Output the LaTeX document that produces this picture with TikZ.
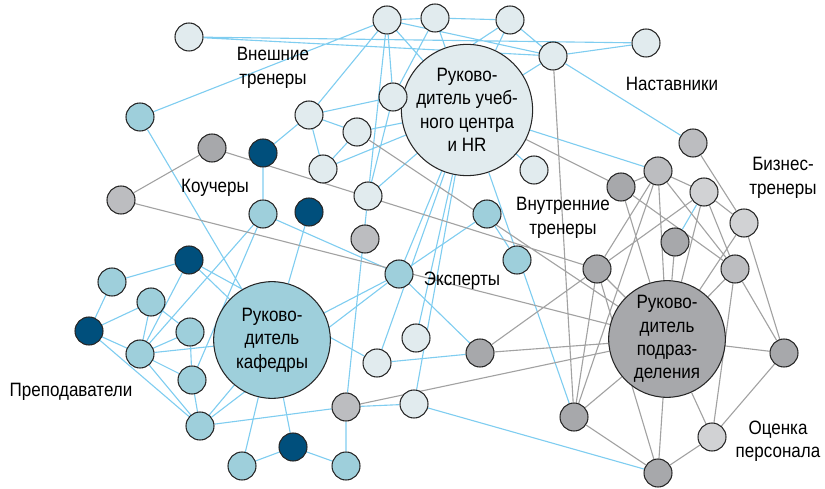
\documentclass[tikz,border=0pt]{standalone}
\usepackage{fontspec}
\setmainfont{Liberation Sans}[FakeStretch=0.88]
\usetikzlibrary{backgrounds}
\definecolor{paleblue}{HTML}{E1EBEE}
\definecolor{tealfill}{HTML}{9ECFDB}
\definecolor{navyfill}{HTML}{004F7C}
\definecolor{greyfill}{HTML}{A7A8AB}
\definecolor{midgreyfill}{HTML}{BCBDC0}
\definecolor{palegreyfill}{HTML}{D1D2D4}
\definecolor{edgeblue}{HTML}{7FCDF0}
\definecolor{edgegrey}{HTML}{A2A2A2}
\newcommand{\lblfont}{\fontsize{16.5}{20}\selectfont}

\begin{document}
\begin{tikzpicture}[x=0.03cm, y=-0.03cm,
		dot/.style={
			circle, draw=black!85, line width=0.9pt,
			minimum size=0.84cm, inner sep=0pt
		},
		lightdot/.style={dot, fill=paleblue},
		tealdot/.style={dot, fill=tealfill},
		navydot/.style={dot, fill=navyfill},
		greydot/.style={dot, fill=greyfill},
		midgreydot/.style={dot, fill=midgreyfill},
		palegreydot/.style={dot, fill=palegreyfill},
		bigdot/.style={
			dot, minimum size=3.5cm,
			align=center, font=\lblfont
		},
		lbl/.style={align=center, font=\lblfont, inner sep=0pt},
		blueline/.style={draw=edgeblue, line width=0.95pt},
		greyline/.style={draw=edgegrey, line width=0.95pt},
	]
	\useasboundingbox (0,0) rectangle (825,489);
	
	%leaders
	\node[bigdot, fill=paleblue] (hr) at (467,110) {Руково-\\дитель учеб-\\ного центра\\и HR};
	\node[bigdot, fill=tealfill] (kaf) at (272,340) {Руково-\\дитель\\кафедры};
	\node[bigdot, fill=greyfill] (pod) at (667,339) {Руково-\\дитель\\подраз-\\деления};
	
	%external trainers, mentors
	\node[lightdot] (e1) at (189,37) {};
	\node[lightdot] (e2) at (387,20) {};
	\node[lightdot] (e3) at (435,18) {};
	\node[lightdot] (e4) at (510,20) {};
	\node[lightdot] (e5) at (553,56) {};
	\node[lightdot] (e6) at (646,43) {};
	\node[lightdot] (e7) at (393,97) {};
	\node[lightdot] (e8) at (309,115) {};
	\node[lightdot] (e9) at (357,132) {};
	\node[lightdot] (e10) at (323,169) {};
	\node[lightdot] (e11) at (368,196) {};
	\node[lightdot] (e12) at (534,170) {};
	\node[lightdot] (e13) at (416,338) {};
	\node[lightdot] (e14) at (377,363) {};
	\node[lightdot] (e15) at (414,404) {};
	
	%teachers, experts
	\node[tealdot] (t1) at (140,117) {};
	\node[tealdot] (t2) at (263,214) {};
	\node[tealdot] (t3) at (487,214) {};
	\node[tealdot] (t4) at (517,260) {};
	\node[tealdot] (t5) at (399,274) {};
	\node[tealdot] (t6) at (112,282) {};
	\node[tealdot] (t7) at (151,302) {};
	\node[tealdot] (t8) at (190,332) {};
	\node[tealdot] (t9) at (140,354) {};
	\node[tealdot] (t10) at (192,380) {};
	\node[tealdot] (t11) at (200,426) {};
	\node[tealdot] (t12) at (242,466) {};
	\node[tealdot] (t13) at (346,466) {};
	
	\node[navydot] (d1) at (263,153) {};
	\node[navydot] (d2) at (309,212) {};
	\node[navydot] (d3) at (189,260) {};
	\node[navydot] (d4) at (89,331) {};
	\node[navydot] (d5) at (293,447) {};
	
	%coaches
	\node[greydot] (c1) at (212,148) {};
	\node[midgreydot] (c2) at (121,200) {};
	\node[midgreydot] (c3) at (365,239) {};
	\node[midgreydot] (c4) at (346,407) {};
	
	%internal trainers
	\node[greydot] (i1) at (621,187) {};
	\node[greydot] (i2) at (597,269) {};
	\node[greydot] (i3) at (480,353) {};
	\node[greydot] (i4) at (574,417) {};
	\node[greydot] (i5) at (658,473) {};
	\node[greydot] (i6) at (675,242) {};
	
	%business trainers, assessment
	\node[midgreydot] (b1) at (693,143) {};
	\node[midgreydot] (b2) at (658,171) {};
	\node[palegreydot] (b3) at (704,192) {};
	\node[palegreydot] (b4) at (744,223) {};
	\node[midgreydot] (b5) at (735,269) {};
	\node[greydot] (o1) at (784,353) {};
	\node[palegreydot] (o2) at (712,437) {};
	
	%labels
	\node[lbl] (lblext) at (273,68) {Внешние\\тренеры};
	\node[lbl] (lblmentor) at (672,84) {Наставники};
	\node[lbl] (lblcoach) at (215,188) {Коучеры};
	\node[lbl] (lblbiz) at (783,178) {Бизнес-\\тренеры};
	\node[lbl] (lblint) at (563,218) {Внутренние\\тренеры};
	\node[lbl] (lblexp) at (462,281) {Эксперты};
	\node[lbl] (lblteach) at (71,392) {Преподаватели};
	\node[lbl] (lblassess) at (778,441) {Оценка\\персонала};
	
	\begin{scope}[on background layer]
		%blue links
		\draw[blueline] (e1) -- (e6) (e1) -- (e5) (t1) -- (e2) (e2) -- (e3)
			(e3) -- (e4) (e2) -- (e5) (e4) -- (e5) (e5) -- (e6)
			(e2) -- (hr) (e3) -- (hr) (e4) -- (hr) (e5) -- (hr)
			(e2) -- (e7) (e3) -- (e7) (e4) -- (e7) (e2) -- (e8)
			(e2) -- (e11) (e7) -- (e11) (e7) -- (e8) (e8) -- (e9)
			(e8) -- (e10) (e8) -- (d1) (e9) -- (e10) (e9) -- (hr)
			(e10) -- (hr) (e11) -- (hr) (e11) -- (c4) (hr) -- (e12)
			(hr) -- (b2) (e5) -- (b1) (hr) -- (t5) (hr) -- (e13)
			(hr) -- (e14) (hr) -- (e15) (hr) -- (i4);
		\draw[blueline] (d1) -- (t2) (t1) -- (kaf) (t2) -- (t9) (t10) -- (t2)
			(t2) -- (t5) (d2) -- (kaf) (t6) -- (d3) (t6) -- (d4)
			(d3) -- (t9) (d3) -- (kaf) (d3) -- (e14) (d4) -- (t7)
			(d4) -- (t9) (d4) -- (t11) (t7) -- (t8) (t7) -- (t9)
			(t8) -- (t9) (t8) -- (t10) (t9) -- (kaf) (t9) -- (t10)
			(t9) -- (t11) (t10) -- (t11) (t11) -- (kaf) (t11) -- (c4)
			(t11) -- (t5) (kaf) -- (t5) (kaf) -- (t12) (kaf) -- (d5)
			(t12) -- (d5) (d5) -- (t13) (t13) -- (c4) (c4) -- (e15)
			(e15) -- (i5) (e14) -- (i3) (t5) -- (t3) (t3) -- (t4)
			(t5) -- (i3) (b3) -- (i6);
		%grey links
		\draw[greyline] (c1) -- (c2) (c1) -- (i2) (c2) -- (pod) (e9) -- (pod)
			(hr) -- (i1) (e5) -- (i4) (i3) -- (i2) (i3) -- (pod)
			(c4) -- (pod) (b1) -- (b4) (b2) -- (i1) (b2) -- (b3)
			(b2) -- (pod) (b2) -- (i2) (b2) -- (i4) (b2) -- (b5)
			(i1) -- (pod) (i1) -- (b5) (i6) -- (pod) (b3) -- (b4)
			(b3) -- (pod) (b3) -- (i2) (b3) -- (b5) (b4) -- (pod)
			(b4) -- (o1) (i2) -- (pod) (i2) -- (i4) (i2) -- (i5)
			(b5) -- (pod) (b5) -- (o1) (b5) -- (o2) (pod) -- (o1)
			(pod) -- (o2) (pod) -- (i5) (pod) -- (i4) (i4) -- (i5)
			(o2) -- (o1) (o2) -- (i5);
	\end{scope}
\end{tikzpicture}
\end{document}
